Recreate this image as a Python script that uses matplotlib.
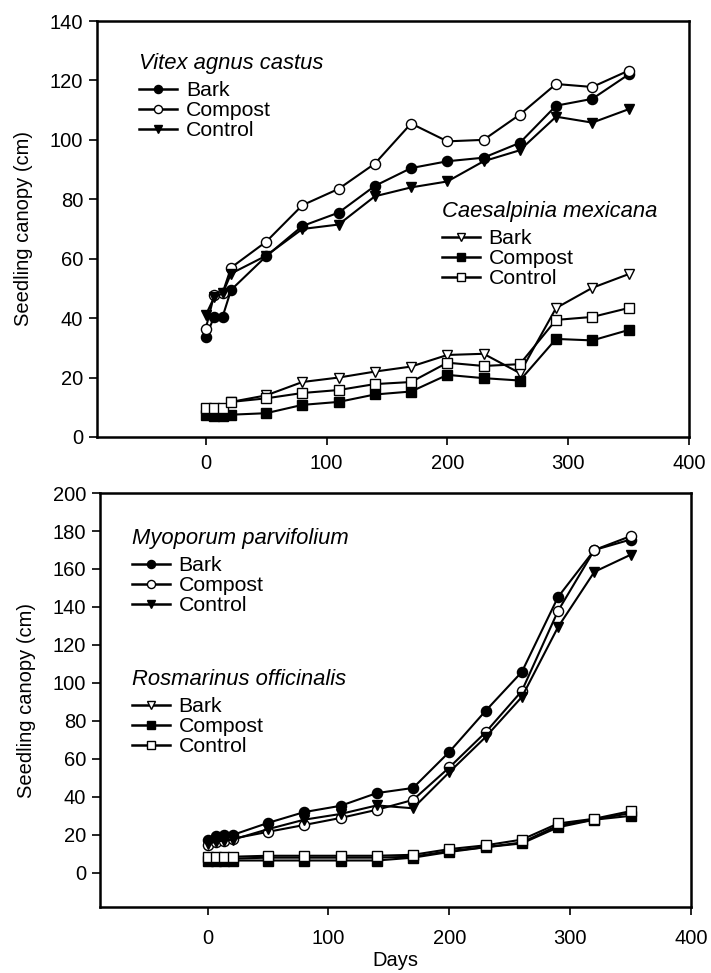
import numpy as np
import matplotlib
matplotlib.use("Agg")
import matplotlib.pyplot as plt
from matplotlib.lines import Line2D

plt.rcParams['font.family'] = ['Liberation Sans', 'DejaVu Sans']

days = [0, 7, 14, 21, 50, 80, 110, 140, 170, 200, 230, 260, 290, 320, 350]

# Vitex agnus castus
vitex_bark = [33.7, 40.4, 40.5, 49.5, 60.8, 71.0, 75.5, 84.5, 90.5, 92.8, 94.0, 99.0, 111.5, 113.8, 122.0]
vitex_compost = [36.4, 47.8, 48.5, 57.0, 65.7, 78.0, 83.5, 92.0, 105.5, 99.5, 100.0, 108.5, 118.8, 117.8, 123.3]
vitex_control = [41.0, 47.0, 48.3, 55.0, 61.0, 70.0, 71.5, 81.0, 84.0, 86.0, 92.8, 96.5, 107.8, 105.8, 110.3]

# Caesalpinia mexicana
caes_bark = [9.3, 9.3, 9.3, 11.8, 14.0, 18.5, 20.0, 22.0, 23.7, 27.6, 28.0, 21.5, 43.4, 50.2, 54.8]
caes_compost = [7.4, 7.0, 7.0, 7.5, 8.0, 10.8, 11.8, 14.3, 15.3, 20.9, 19.8, 19.0, 33.0, 32.5, 36.0]
caes_control = [9.8, 9.7, 9.7, 11.8, 13.0, 14.8, 15.8, 17.8, 18.5, 25.0, 23.9, 24.5, 39.4, 40.4, 43.4]

# Myoporum parvifolium
myo_bark = [17.5, 19.5, 20.0, 20.0, 26.3, 32.0, 35.3, 42.0, 44.7, 63.7, 85.3, 105.8, 145.3, 170.0, 175.5]
myo_compost = [14.5, 16.0, 17.0, 18.0, 21.6, 25.2, 28.9, 33.2, 38.4, 55.5, 74.0, 95.8, 138.0, 170.0, 177.3]
myo_control = [15.0, 16.5, 17.0, 17.5, 23.0, 28.0, 31.0, 35.5, 34.0, 53.0, 71.5, 92.6, 129.5, 158.5, 167.5]

# Rosmarinus officinalis
ros_bark = [7.0, 7.0, 7.0, 7.5, 8.0, 8.0, 8.0, 8.0, 8.5, 11.5, 13.5, 16.0, 25.0, 28.0, 31.5]
ros_compost = [6.0, 6.0, 6.0, 6.5, 6.5, 6.5, 6.5, 6.5, 8.0, 11.0, 13.5, 15.5, 24.0, 28.0, 30.0]
ros_control = [8.5, 8.5, 8.5, 8.5, 9.0, 9.0, 9.0, 9.0, 9.5, 12.5, 14.5, 17.5, 26.0, 28.5, 32.5]

treatments = ['Bark', 'Compost', 'Control']

fig = plt.figure(figsize=(7.11, 9.73), dpi=100)
ax1 = fig.add_axes([0.1364, 0.5509, 0.969 - 0.1364, 0.9784 - 0.5509])
ax2 = fig.add_axes([0.1406, 0.0678, 0.972 - 0.1406, 0.4933 - 0.0678])

ms = 7.3
lw = 1.5
fs_leg = 15.3

# marker styles: (marker, facecolor)
sty_a = [('o', 'black'), ('o', 'white'), ('v', 'black')]
sty_b = [('v', 'white'), ('s', 'black'), ('s', 'white')]


def draw(ax, series, styles):
    for ys, (m, fc) in zip(series, styles):
        ax.plot(days, ys, color='black', lw=lw, marker=m, ms=ms, mfc=fc,
                mec='black', mew=1.0)


def legend(ax, title, styles, x, y):
    handles = [Line2D([], [], color='black', lw=lw + 0.3, marker=m, ms=ms * 0.8,
                      mfc=fc, mec='black', mew=1.0) for m, fc in styles]
    leg = ax.legend(handles, treatments, title=title, loc='upper left',
                    bbox_to_anchor=(x, y), bbox_transform=fig.transFigure,
                    frameon=False, handlelength=1.8,
                    handletextpad=0.4, labelspacing=0.06, borderpad=0,
                    borderaxespad=0,
                    title_fontproperties={'size': fs_leg + 0.5, 'style': 'italic'},
                    alignment='left', prop={'size': fs_leg})
    leg._legend_box.sep = 5
    return leg


draw(ax1, [vitex_bark, vitex_compost, vitex_control], sty_a)
draw(ax1, [caes_bark, caes_compost, caes_control], sty_b)
draw(ax2, [myo_bark, myo_compost, myo_control], sty_a)
draw(ax2, [ros_bark, ros_compost, ros_control], sty_b)

l1 = legend(ax1, 'Vitex agnus castus', sty_a, 139 / 711, 1 - 53 / 973)
ax1.add_artist(l1)
legend(ax1, 'Caesalpinia mexicana', sty_b, 442 / 711, 1 - 201 / 973)
l3 = legend(ax2, 'Myoporum parvifolium', sty_a, 132 / 711, 1 - 528 / 973)
ax2.add_artist(l3)
legend(ax2, 'Rosmarinus officinalis', sty_b, 132 / 711, 1 - 669 / 973)

ax1.set_xlim(-90, 400)
ax1.set_ylim(0, 140)
ax1.set_yticks(np.arange(0, 141, 20))
ax2.set_xlim(-89, 400)
ax2.set_ylim(-18, 200)
ax2.set_yticks(np.arange(0, 201, 20))
for ax in (ax1, ax2):
    ax.set_xticks([0, 100, 200, 300, 400])
    ax.tick_params(direction='out', length=6, width=1.2, labelsize=14.5,
                   pad=4, top=False, right=False)
    for s in ax.spines.values():
        s.set_linewidth(1.8)
    ax.set_ylabel('Seedling canopy (cm)', fontsize=14.5, labelpad=12)

ax1.tick_params(axis='x', pad=6)
ax2.tick_params(axis='x', pad=10)
ax2.set_xlabel('Days', fontsize=14.5, labelpad=2)

fig.savefig('out.png', dpi=100)
